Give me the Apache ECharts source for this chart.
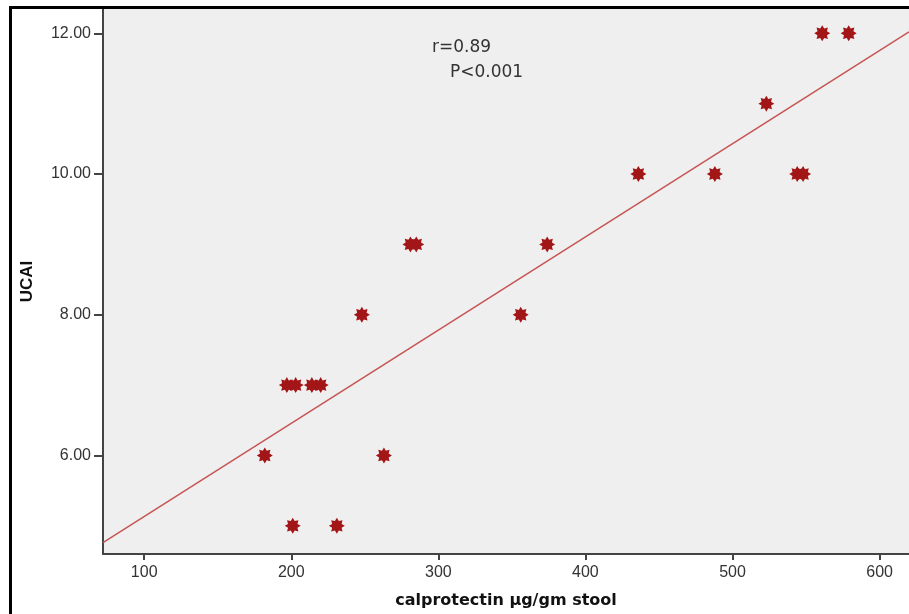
<!DOCTYPE html>
<html>
<head>
<meta charset="utf-8">
<script src="https://cdn.jsdelivr.net/npm/echarts@6/dist/echarts.min.js"></script>
<style>
  html, body { margin: 0; padding: 0; background: #fff; }
  #chart { width: 909px; height: 614px; }
</style>
</head>
<body>
<div id="chart"></div>
<script>
// calprotectin (µg/gm stool) vs UCAI
var calpro = [182, 201, 231, 263, 197, 203, 214, 220, 248, 281, 285, 356, 374, 436, 488, 544, 548, 523, 561, 579];
var ucai   = [6,   5,   5,   6,   7,   7,   7,   7,   8,   9,   9,   8,   9,   10,  10,  10,  10,  11,  12,  12];

// fit line ends
var fitX = [72, 620];
var fitY = [4.76, 12.02];

var xTicks = [100, 200, 300, 400, 500, 600];
var yTicks = [6, 8, 10, 12];

var stats = ['r=0.89', 'P<0.001'];

// 8 pointed star marker
function starPath() {
  var pts = [];
  for (var k = 0; k < 16; k++) {
    var a = k * Math.PI / 8 - Math.PI / 2;
    var r = k % 2 === 0 ? 10 : 6.4;
    pts.push((k === 0 ? 'M' : 'L') + (10 + r * Math.cos(a)).toFixed(2) + ' ' + (10 + r * Math.sin(a)).toFixed(2));
  }
  return 'path://' + pts.join(' ') + ' Z';
}

var points = calpro.map(function (v, i) { return [v, ucai[i]]; });
var fit = fitX.map(function (v, i) { return [v, fitY[i]]; });

var myChart = echarts.init(document.getElementById('chart'));
var option = {
  backgroundColor: '#fff',
  animation: false,
  grid: {
    left: 103,
    right: 0,
    top: 9,
    bottom: 60,
    show: true,
    backgroundColor: '#efefef',
    borderWidth: 0
  },
  xAxis: {
    type: 'value',
    min: 72,
    max: 620,
    name: 'calprotectin µg/gm stool',
    nameLocation: 'middle',
    nameGap: 39,
    nameTextStyle: { fontFamily: 'DejaVu Sans', fontWeight: 'bold', fontSize: 16, color: '#111' },
    splitLine: { show: false },
    axisLine: { lineStyle: { color: '#444', width: 2 } },
    axisTick: { show: true, length: 6, lineStyle: { color: '#444', width: 2 }, customValues: xTicks },
    axisLabel: {
      customValues: xTicks,
      margin: 11,
      fontFamily: 'Liberation Sans',
      fontSize: 16,
      color: '#333'
    }
  },
  yAxis: {
    type: 'value',
    min: 4.6,
    max: 12.345,
    name: 'UCAI',
    nameLocation: 'middle',
    nameGap: 67,
    nameRotate: 90,
    nameTextStyle: { fontFamily: 'Liberation Sans', fontWeight: 'bold', fontSize: 17, color: '#111' },
    splitLine: { show: false },
    axisLine: { show: true, lineStyle: { color: '#444', width: 2 } },
    axisTick: { show: true, length: 9, lineStyle: { color: '#444', width: 2 }, customValues: yTicks },
    axisLabel: {
      customValues: yTicks,
      margin: 12,
      fontFamily: 'Liberation Sans',
      fontSize: 16,
      color: '#333',
      formatter: function (v) { return v.toFixed(2); }
    }
  },
  graphic: [
    {
      type: 'rect',
      shape: { x: 10.5, y: 7.5, width: 1000, height: 700 },
      style: { fill: 'none', stroke: '#000', lineWidth: 3 },
      z: 100,
      silent: true
    },
    {
      type: 'text',
      left: 432,
      top: 39,
      style: { text: stats[0], font: '17px "DejaVu Sans"', fill: '#333' }
    },
    {
      type: 'text',
      left: 450,
      top: 64,
      style: { text: stats[1], font: '17px "DejaVu Sans"', fill: '#333' }
    }
  ],
  series: [
    {
      type: 'line',
      data: fit,
      symbol: 'none',
      lineStyle: { color: '#c65454', width: 1.5 },
      z: 2
    },
    {
      type: 'scatter',
      data: points,
      symbol: starPath(),
      symbolSize: 16,
      itemStyle: { color: '#a31618', opacity: 1 },
      z: 3
    }
  ]
};
myChart.setOption(option);
</script>
</body>
</html>
